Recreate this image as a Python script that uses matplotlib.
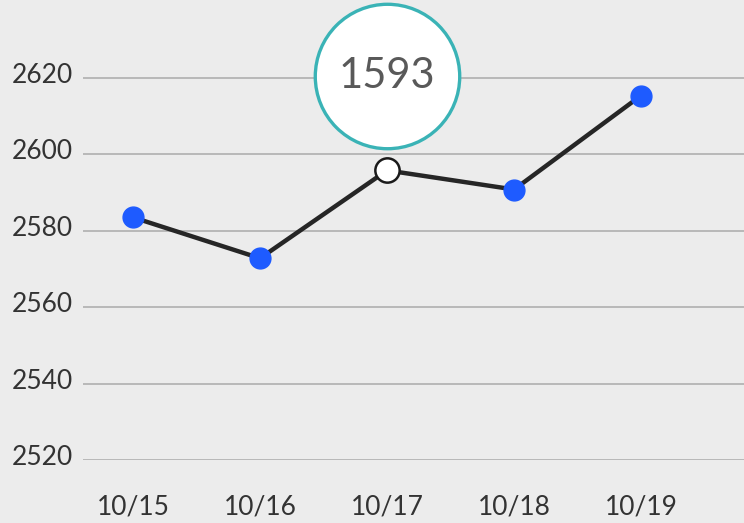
import matplotlib
matplotlib.use("Agg")
import matplotlib.pyplot as plt
import matplotlib.transforms as mtransforms

dates = ["10/15", "10/16", "10/17", "10/18", "10/19"]
values = [2583.5, 2572.8, 2595.8, 2590.8, 2615.4]
yticks = [2520, 2540, 2560, 2580, 2600, 2620]
highlight_index = 2
highlight_label = "1593"

plt.rcParams['font.family'] = ['Lato', 'DejaVu Sans']
BG = "#ececec"

fig = plt.figure(figsize=(7.44, 5.23), dpi=100)
fig.patch.set_facecolor(BG)
ax = fig.add_axes([83/744, 63/523, 1 - 83/744, 1 - 63/523])
ax.set_facecolor(BG)

x = list(range(len(dates)))
ax.set_xlim(-0.394, 4.81)
ax.set_ylim(2520, 2640.4)

for t in yticks:
    ax.axhline(t, color="#b8b8b8", lw=1.4, zorder=1)

ax.plot(x, values, color="#262626", lw=3.2, zorder=2, solid_capstyle='round')
others = [i for i in x if i != highlight_index]
ax.plot([x[i] for i in others], [values[i] for i in others], ls='none',
        marker='o', ms=15, mfc="#1e5bff", mec="#1e5bff", zorder=3)
ax.plot([x[highlight_index]], [values[highlight_index]], ls='none', marker='o',
        ms=17.5, mfc="white", mec="#1a1a1a", mew=1.8, zorder=4)

off = mtransforms.offset_copy(ax.transData, fig=fig, x=0, y=94, units='dots')
ax.plot([x[highlight_index]], [values[highlight_index]], ls='none', marker='o',
        ms=104, mfc="white", mec="#3ab3b6", mew=2.4, transform=off, zorder=5,
        clip_on=False)
ax.text(x[highlight_index], values[highlight_index], highlight_label, transform=off,
        ha='center', va='center', fontsize=30, color="#595959", zorder=6)

ax.set_xticks(x)
ax.set_xticklabels(dates)
ax.set_yticks(yticks)
ax.set_yticklabels([str(t) for t in yticks])
ax.tick_params(axis='both', length=0, labelsize=19, colors="#333333")
ax.tick_params(axis='x', pad=25)
ax.tick_params(axis='y', pad=7)
shift = mtransforms.ScaledTranslation(0, 5/100, fig.dpi_scale_trans)
for lbl in ax.get_yticklabels():
    lbl.set_transform(lbl.get_transform() + shift)
for s in ax.spines.values():
    s.set_visible(False)

fig.savefig("out.png", dpi=100, facecolor=BG)
